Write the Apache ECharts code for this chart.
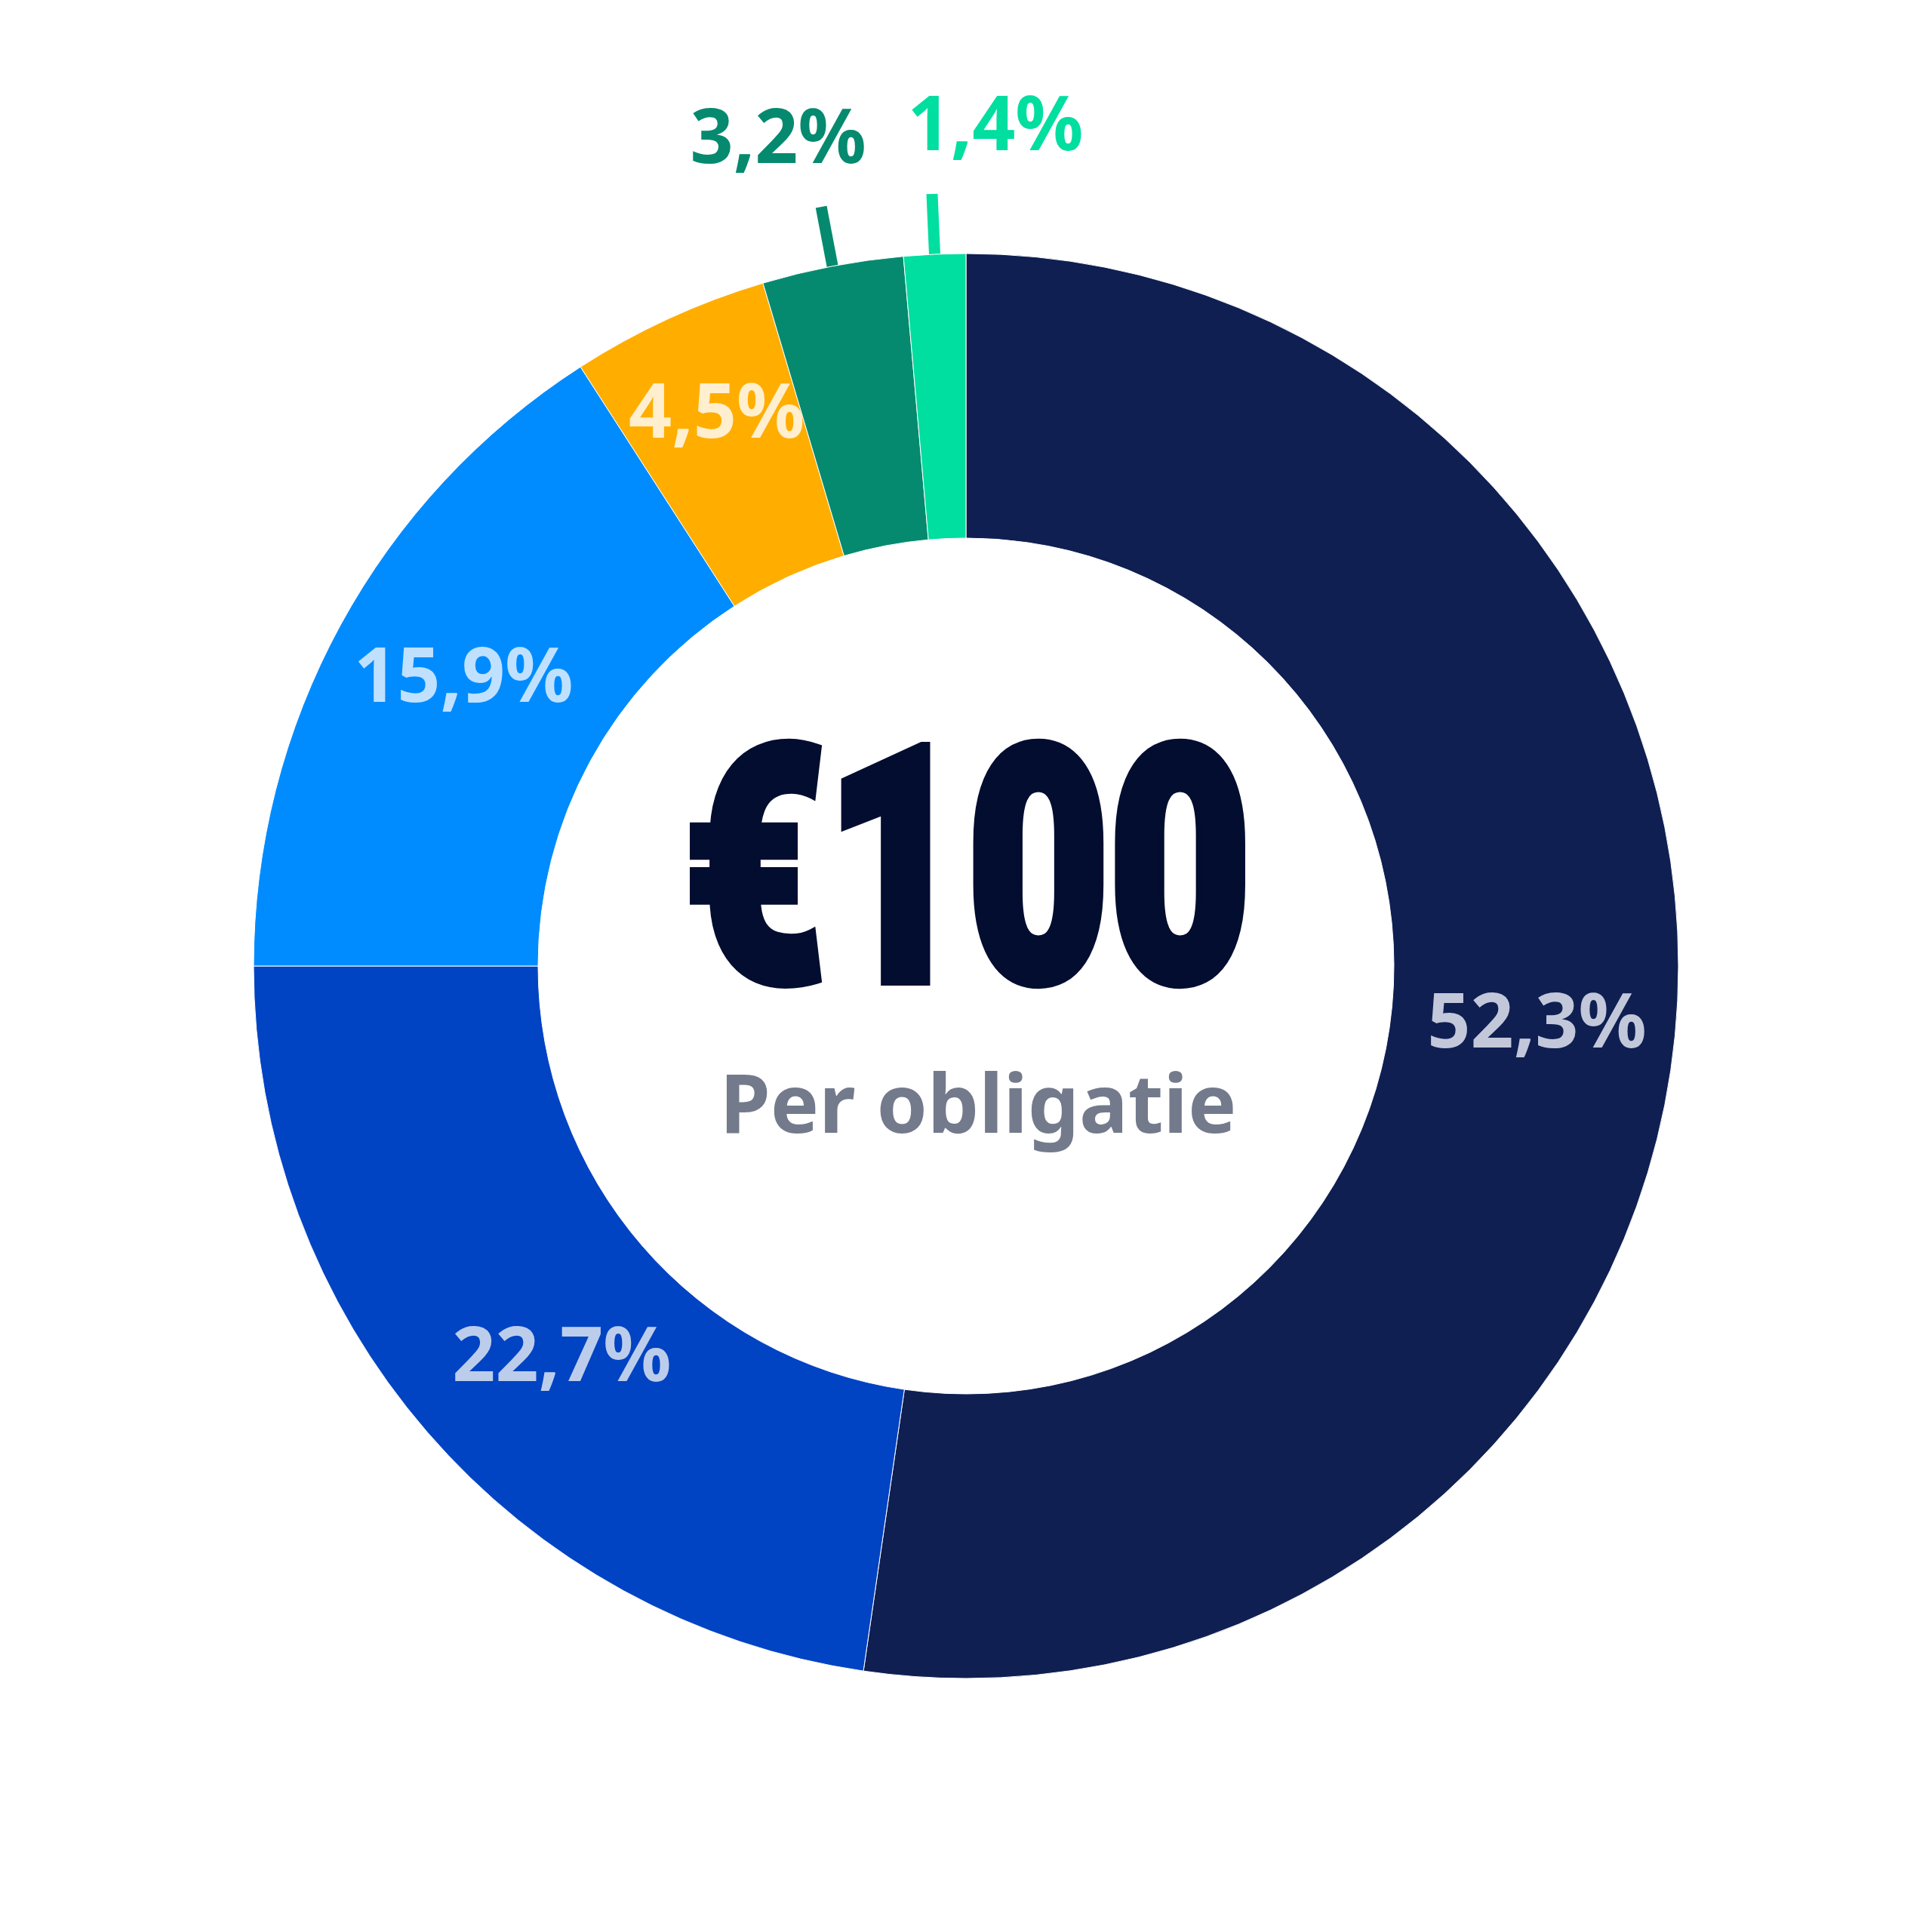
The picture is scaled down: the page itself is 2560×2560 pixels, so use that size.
<!DOCTYPE html>
<html>
<head>
<meta charset="utf-8">
<script src="https://cdn.jsdelivr.net/npm/echarts@6/dist/echarts.min.js"></script>
<style>
html,body{margin:0;padding:0;background:#ffffff;}
#chart{width:2560px;height:2560px;}
</style>
</head>
<body>
<div id="chart"></div>
<script>
// ---- data ----
const categories = ['A', 'B', 'C', 'D', 'E', 'F'];
const values = [52.3, 22.7, 15.9, 4.5, 3.2, 1.4];
const sliceColors = ['#0f1f52', '#0043c3', '#008cff', '#ffae00', '#058a6f', '#00dea0'];
const labelColors = ['#c2c8da', '#bccdec', '#bfe1ff', '#ffefcf', '#058a6f', '#00dea0'];
const outsideIdx = [4, 5];
const centerValue = '€100';
const centerSub = 'Per obligatie';

// label placement tweaks (pixels)
const outShiftX = {4: -57, 5: 84};
const outGapY = {4: 87, 5: 86};
const inShift = {0: [0, 25], 1: [38, 25], 2: [0, -15], 3: [-14, -39]};

const fmt = v => v.toFixed(1).replace('.', ',') + '%';

const data = categories.map((c, i) => {
  const outside = outsideIdx.indexOf(i) >= 0;
  return {
    name: c,
    value: values[i],
    itemStyle: { color: sliceColors[i] },
    label: {
      position: outside ? 'outside' : 'inside',
      color: labelColors[i]
    },
    labelLine: {
      show: outside,
      length: 80,
      length2: 0,
      smooth: false,
      lineStyle: { color: sliceColors[i], width: 15, cap: 'butt' }
    }
  };
});

const chart = echarts.init(document.getElementById('chart'), null, { renderer: 'canvas' });
chart.setOption({
  backgroundColor: '#ffffff',
  animation: false,
  series: [{
    type: 'pie',
    center: [1280, 1280],
    radius: [567, 944],
    startAngle: 90,
    clockwise: true,
    avoidLabelOverlap: false,
    itemStyle: { borderColor: '#ffffff', borderWidth: 1 },
    label: {
      show: true,
      formatter: p => fmt(p.value),
      fontFamily: 'Noto Sans',
      fontWeight: 'bold',
      fontSize: 100
    },
    labelLine: {
      length: 80,
      length2: 0,
      lineStyle: { width: 15 }
    },
    labelLayout: function (p) {
      if (outsideIdx.indexOf(p.dataIndex) >= 0 && p.labelLinePoints) {
        const pts = p.labelLinePoints;
        const end = pts[1];
        return {
          x: end[0] + outShiftX[p.dataIndex],
          y: end[1] - outGapY[p.dataIndex],
          align: 'center',
          verticalAlign: 'middle',
          labelLinePoints: pts
        };
      }
      const s = inShift[p.dataIndex];
      if (s) return { dx: s[0], dy: s[1] };
      return {};
    },
    emphasis: { disabled: true },
    data: data
  }],
  graphic: [
    {
      type: 'text',
      x: 1282,
      y: 1190,
      scaleX: 0.75,
      style: {
        text: centerValue,
        fontFamily: 'Roboto',
        fontWeight: 900,
        fontSize: 432,
        fill: '#020d30',
        stroke: '#020d30',
        lineWidth: 16,
        lineJoin: 'round',
        align: 'center',
        verticalAlign: 'middle'
      }
    },
    {
      type: 'text',
      x: 1296,
      y: 1470,
      style: {
        text: centerSub,
        fontFamily: 'Noto Sans',
        fontWeight: 'bold',
        fontSize: 108,
        fill: '#737a8c',
        align: 'center',
        verticalAlign: 'middle'
      }
    }
  ]
});
</script>
</body>
</html>
